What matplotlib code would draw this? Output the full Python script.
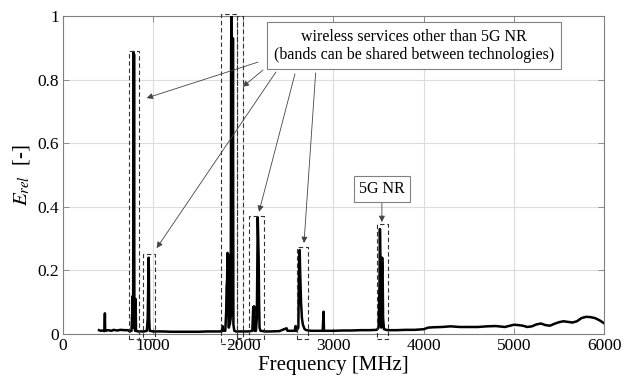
import matplotlib
matplotlib.use("Agg")
import matplotlib.pyplot as plt
from matplotlib.patches import Rectangle

plt.rcParams['font.family'] = ['Liberation Serif', 'DejaVu Serif']
plt.rcParams['mathtext.fontset'] = 'stix'

# Spectrum (frequency in MHz, relative field strength)
freq = [400, 420, 440, 460, 465, 468, 500, 540, 560, 600, 640, 680, 720, 740, 760,
        775, 778, 782, 785, 788, 792, 800, 806, 810, 830, 860, 900, 930, 940, 945,
        950, 953, 956, 962, 1000, 1100, 1200, 1300, 1400, 1500, 1600, 1700, 1760,
        1770, 1775, 1800, 1810, 1815, 1820, 1825, 1830, 1835, 1840, 1845, 1850,
        1860, 1865, 1868, 1872, 1876, 1880, 1885, 1890, 1900, 1920, 1960, 2000,
        2050, 2100, 2110, 2115, 2120, 2125, 2140, 2150, 2160, 2165, 2170, 2175,
        2180, 2190, 2250, 2300, 2400, 2480, 2490, 2570, 2580, 2590, 2610, 2620,
        2625, 2630, 2640, 2650, 2660, 2680, 2700, 2750, 2880, 2890, 2895, 3000,
        3100, 3200, 3300, 3400, 3480, 3500, 3510, 3515, 3520, 3525, 3530, 3535,
        3540, 3545, 3550, 3560, 3600, 3700, 3800, 3900, 4000, 4050, 4100, 4200,
        4300, 4400, 4500, 4600, 4700, 4800, 4900, 5000, 5050, 5100, 5150, 5200,
        5250, 5300, 5350, 5400, 5450, 5500, 5550, 5600, 5650, 5700, 5750, 5800,
        5850, 5900, 5950, 6000]
erel = [0.012, 0.010, 0.011, 0.009, 0.065, 0.010, 0.012, 0.010, 0.013, 0.011, 0.013,
        0.012, 0.012, 0.008, 0.010, 0.12, 0.02, 0.887, 0.30, 0.88, 0.05, 0.01, 0.11,
        0.01, 0.008, 0.008, 0.008, 0.010, 0.05, 0.15, 0.24, 0.20, 0.05, 0.01, 0.008,
        0.008, 0.007, 0.007, 0.007, 0.007, 0.008, 0.008, 0.008, 0.025, 0.01, 0.01,
        0.07, 0.15, 0.17, 0.255, 0.08, 0.25, 0.02, 0.18, 0.03, 0.05, 0.9, 1.0, 0.95,
        0.7, 0.06, 0.93, 0.03, 0.01, 0.008, 0.008, 0.008, 0.008, 0.010, 0.085, 0.06,
        0.087, 0.01, 0.01, 0.05, 0.367, 0.30, 0.24, 0.10, 0.02, 0.01, 0.008, 0.008,
        0.009, 0.018, 0.010, 0.01, 0.025, 0.01, 0.02, 0.26, 0.264, 0.2, 0.1, 0.05,
        0.03, 0.015, 0.012, 0.010, 0.010, 0.07, 0.01, 0.010, 0.011, 0.011, 0.012,
        0.012, 0.013, 0.02, 0.15, 0.33, 0.25, 0.05, 0.02, 0.18, 0.24, 0.2, 0.05,
        0.015, 0.012, 0.012, 0.013, 0.013, 0.015, 0.02, 0.021, 0.022, 0.024, 0.022,
        0.022, 0.022, 0.024, 0.025, 0.022, 0.029, 0.028, 0.026, 0.022, 0.024, 0.03,
        0.033, 0.028, 0.026, 0.032, 0.037, 0.04, 0.038, 0.036, 0.04, 0.05, 0.054,
        0.053, 0.05, 0.043, 0.034]

# Highlighted bands: (f_low, f_high, bottom, top)
band_lo = [732, 887, 1757, 1925, 2065, 2595, 3480]
band_hi = [843, 1020, 1925, 1992, 2228, 2720, 3600]
band_bottom = [-0.015, -0.015, -0.03, -0.012, -0.015, -0.015, -0.015]
band_top = [0.89, 0.25, 1.005, 1.0, 0.371, 0.274, 0.346]

# Arrows from the "other services" label to the bands
arrow_start_f = [2163, 2218, 2362, 2573, 2802]
arrow_start_y = [0.855, 0.830, 0.824, 0.818, 0.821]
arrow_end_f = [928, 1993, 1039, 2174, 2673]
arrow_end_y = [0.742, 0.777, 0.270, 0.384, 0.286]

xticks = [0, 1000, 2000, 3000, 4000, 5000, 6000]
yticks = [0, 0.2, 0.4, 0.6, 0.8, 1.0]
ytick_labels = ['0', '0.2', '0.4', '0.6', '0.8', '1']

fig = plt.figure(figsize=(6.36, 3.81), dpi=100)
ax = fig.add_axes([0.099, 0.1234, 0.8507, 0.8346])

ax.plot(freq, erel, color='black', lw=1.8, zorder=3)

for lo, hi, b, t in zip(band_lo, band_hi, band_bottom, band_top):
    ax.add_patch(Rectangle((lo, b), hi - lo, t - b, fill=False, ls=(0, (4, 2.5)),
                           lw=0.8, edgecolor='#333333', clip_on=False, zorder=4))

for sf, sy, ef, ey in zip(arrow_start_f, arrow_start_y, arrow_end_f, arrow_end_y):
    ax.annotate('', xy=(ef, ey), xytext=(sf, sy),
                arrowprops=dict(arrowstyle='-|>', color='#444444', lw=0.6,
                                mutation_scale=9, shrinkA=0, shrinkB=0), zorder=5)

ax.text(3893, 0.906, 'wireless services other than 5G NR\n(bands can be shared between technologies)',
        ha='center', va='center', fontsize=11.5, linespacing=1.2,
        bbox=dict(boxstyle='square,pad=0.4', fc='white', ec='#808080', lw=0.8), zorder=6)

ax.annotate('5G NR', xy=(3537, 0.352), xytext=(3537, 0.456), ha='center', va='center',
            fontsize=11.5,
            bbox=dict(boxstyle='square,pad=0.3', fc='white', ec='#808080', lw=0.8),
            arrowprops=dict(arrowstyle='-|>', color='#444444', lw=0.6, mutation_scale=9,
                            shrinkA=0, shrinkB=0), zorder=6)

ax.set_xlim(0, 6000)
ax.set_ylim(0, 1)
ax.set_xticks(xticks)
ax.set_yticks(yticks)
ax.set_yticklabels(ytick_labels)
ax.grid(True, color='#dcdcdc', lw=0.8)
ax.set_axisbelow(True)
for s in ax.spines.values():
    s.set_color('#808080')
    s.set_linewidth(0.8)
ax.tick_params(direction='in', length=4, width=0.6, color='#808080',
               top=True, right=True, labelsize=12.5, pad=3)
ax.set_xlabel('Frequency [MHz]', fontsize=15, labelpad=1)
ax.set_ylabel(r'$E_{rel}$  [-]', fontsize=15, labelpad=4)

fig.savefig('out.png', dpi=100)
